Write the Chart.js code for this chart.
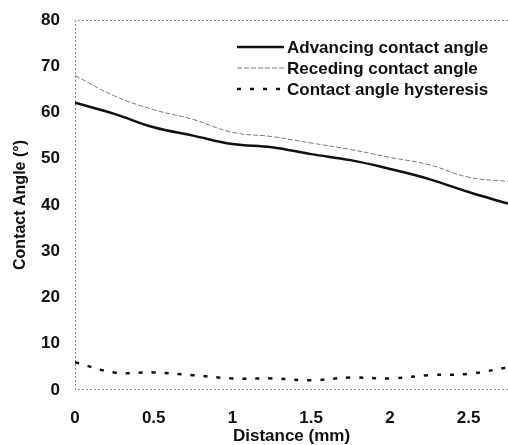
<!DOCTYPE html>
<html>
<head>
<meta charset="utf-8">
<script src="https://cdn.jsdelivr.net/npm/chart.js@4"></script>
<style>
  html, body { margin: 0; padding: 0; background: #fff; }
  #wrap { width: 508px; height: 445px; }
</style>
</head>
<body>
<div id="wrap"><canvas id="angleChart"></canvas></div>
<script>
// values
const distance   = [0, 0.25, 0.5, 0.75, 1.0, 1.25, 1.5, 1.75, 2.0, 2.25, 2.5, 2.75];
const advancing  = [62.1, 59.7, 56.8, 55.0, 53.2, 52.5, 51.0, 49.7, 47.8, 45.6, 42.8, 40.3];
const receding   = [68.0, 63.6, 60.6, 58.5, 55.7, 54.8, 53.4, 52.0, 50.3, 48.7, 46.0, 45.1];
const hysteresis = [6.0, 3.8, 3.8, 3.2, 2.5, 2.5, 2.1, 2.7, 2.5, 3.2, 3.5, 4.9];
const seriesNames = ['Advancing contact angle', 'Receding contact angle', 'Contact angle hysteresis'];
const yTicks = [0, 10, 20, 30, 40, 50, 60, 70, 80];
const xTicks = [0, 0.5, 1, 1.5, 2, 2.5];

const FONT = 'Liberation Sans, Arial, sans-serif';

function pts(ys) {
    return distance.map((d, i) => ({ x: d, y: ys[i] }));
}

// dotted frame round the plot (top, left, bottom)
const framePlugin = {
    id: 'frame',
    beforeDatasetsDraw(chart) {
        const a = chart.chartArea;
        const ctx = chart.ctx;
        ctx.save();
        ctx.strokeStyle = '#8c8c8c';
        ctx.lineWidth = 1;
        ctx.setLineDash([2, 2]);
        ctx.beginPath();
        ctx.moveTo(a.right, a.top + 0.5);
        ctx.lineTo(a.left + 0.5, a.top + 0.5);
        ctx.lineTo(a.left + 0.5, a.bottom - 0.5);
        ctx.lineTo(a.right, a.bottom - 0.5);
        ctx.stroke();
        ctx.restore();
    }
};

// legend drawn like the original: line sample then bold text
const legendPlugin = {
    id: 'lineLegend',
    afterDraw(chart) {
        const a = chart.chartArea;
        const ctx = chart.ctx;
        ctx.save();
        chart.data.datasets.forEach((ds, i) => {
            const y = a.top + 27 + i * 21;
            const x0 = a.left + 162;
            ctx.strokeStyle = ds.borderColor;
            ctx.lineWidth = ds.borderWidth;
            ctx.setLineDash(ds.borderDash || []);
            ctx.beginPath();
            ctx.moveTo(x0, y);
            ctx.lineTo(x0 + 47, y);
            ctx.stroke();
            ctx.setLineDash([]);
            ctx.fillStyle = '#111';
            ctx.font = 'bold 17px ' + FONT;
            ctx.textAlign = 'left';
            ctx.textBaseline = 'middle';
            ctx.fillText(ds.label, x0 + 50, y + 1);
        });
        ctx.restore();
    }
};

const ctx = document.getElementById('angleChart').getContext('2d');
const angleChart = new Chart(ctx, {
    type: 'line',
    data: {
        datasets: [{
            label: seriesNames[0],
            data: pts(advancing),
            borderColor: '#111',
            borderWidth: 2.5,
            tension: 0.4,
            pointRadius: 0
        }, {
            label: seriesNames[1],
            data: pts(receding),
            borderColor: '#7a7a7a',
            borderWidth: 1,
            borderDash: [5, 2],
            tension: 0.4,
            pointRadius: 0
        }, {
            label: seriesNames[2],
            data: pts(hysteresis),
            borderColor: '#111',
            borderWidth: 2.5,
            borderDash: [4, 9],
            tension: 0.4,
            pointRadius: 0
        }]
    },
    options: {
        responsive: true,
        maintainAspectRatio: false,
        animation: false,
        layout: { padding: 0 },
        plugins: {
            legend: { display: false },
            tooltip: { enabled: false }
        },
        scales: {
            x: {
                type: 'linear',
                min: 0,
                max: 2.75,
                afterBuildTicks(scale) {
                    scale.ticks = xTicks.map(v => ({ value: v }));
                },
                afterFit(scale) {
                    scale.height = 55;
                    scale.paddingLeft = 0;
                    scale.paddingRight = 0;
                },
                grid: { display: false, drawTicks: false },
                border: { display: false },
                ticks: {
                    color: '#111',
                    padding: 18,
                    font: { family: FONT, size: 17, weight: 'bold' },
                    callback: v => String(v)
                },
                title: {
                    display: true,
                    text: 'Distance (mm)',
                    color: '#111',
                    padding: 0,
                    font: { family: FONT, size: 17, weight: 'bold', lineHeight: 1 }
                }
            },
            y: {
                min: 0,
                max: 80,
                afterBuildTicks(scale) {
                    scale.ticks = yTicks.map(v => ({ value: v }));
                },
                afterFit(scale) {
                    scale.width = 75;
                    scale.paddingTop = 20;
                    scale.paddingBottom = 0;
                },
                grid: { display: false, drawTicks: false },
                border: { display: false },
                ticks: {
                    color: '#111',
                    padding: 15,
                    font: { family: FONT, size: 17, weight: 'bold' }
                },
                title: {
                    display: true,
                    text: 'Contact Angle (°)',
                    color: '#111',
                    padding: { top: 11, bottom: 0 },
                    font: { family: FONT, size: 16, weight: 'bold' }
                }
            }
        }
    },
    plugins: [framePlugin, legendPlugin]
});
</script>
</body>
</html>
